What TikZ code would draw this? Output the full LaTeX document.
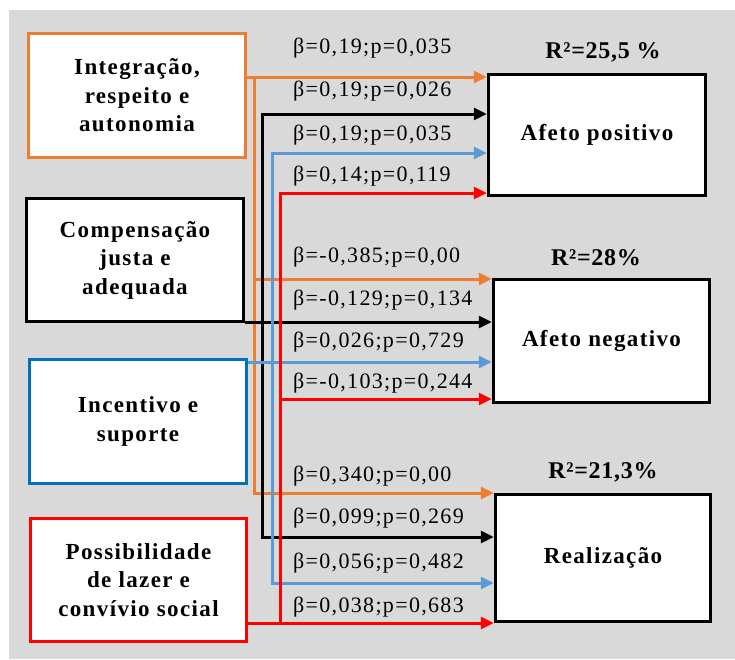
\documentclass[tikz,border=0pt]{standalone}
\usepackage{fontspec}
\setmainfont{Liberation Serif}
\newfontfamily\lblfont[LetterSpace=6]{Liberation Serif}
\newfontfamily\bxfont[LetterSpace=6]{Liberation Serif}
\newfontfamily\rfont[LetterSpace=3]{Liberation Serif}
\usetikzlibrary{arrows.meta}
\definecolor{bg}{HTML}{D9D9D9}
\definecolor{orng}{HTML}{ED7D31}
\definecolor{lblue}{HTML}{5B9BD5}
\definecolor{dblue}{HTML}{0070C0}
\definecolor{rd}{HTML}{FF0000}
\begin{document}
\begin{tikzpicture}[x=1pt,y=-1pt,
  box/.style={draw,line width=3.5pt,fill=white,inner sep=0pt,align=center,
    font=\bxfont\bfseries\fontsize{23}{28.5}\selectfont},
  lbl/.style={anchor=west,inner sep=0pt,font=\lblfont\fontsize{22}{26}\selectfont},
  rlbl/.style={inner sep=0pt,font=\rfont\bfseries\fontsize{24}{26}\selectfont},
  conn/.style={line width=3pt,-{Triangle[length=13pt,width=12pt]}}]
\useasboundingbox (0,0) rectangle (735,659);
\fill[bg] (9,10) rectangle (735,659);

% source boxes
\node[box,draw=orng,minimum width=217pt,minimum height=124pt] (int) at (137,95.5) {Integração,\\respeito e\\autonomia};
\node[box,draw=black,minimum width=217pt,minimum height=123pt] (comp) at (135,260) {Compensação\\justa e\\adequada};
\node[box,draw=dblue,minimum width=217pt,minimum height=124pt] (inc) at (138,421.5) {Incentivo e\\suporte};
\node[box,draw=rd,minimum width=216pt,minimum height=123pt] (pos) at (138.5,580) {Possibilidade\\de lazer e\\convívio social};

% target boxes
\node[box,draw=black,minimum width=217pt,minimum height=121pt] (ap) at (597,135) {Afeto positivo};
\node[box,draw=black,minimum width=216pt,minimum height=123pt] (an) at (601.5,341) {Afeto negativo};
\node[box,draw=black,minimum width=215pt,minimum height=127pt] (re) at (603,558) {Realização};

% R2 labels
\node[rlbl] (r1) at (603,52) {R²=25,5 \%};
\node[rlbl] (r2) at (596,258) {R²=28\%};
\node[rlbl] (r3) at (603,472) {R²=21,3\%};

% orange connectors
\draw[conn,orng] (int.east|-0,77) -- (ap.west|-0,77);
\draw[conn,orng] (int.east|-0,77) -| (254,279) -- (an.west|-0,279);
\draw[conn,orng] (int.east|-0,77) -| (254,493) -- (re.west|-0,493);
% black connectors
\draw[conn,black] (comp.east|-0,322) -| (262,114) -- (ap.west|-0,114);
\draw[conn,black] (comp.east|-0,322) -- (an.west|-0,322);
\draw[conn,black] (comp.east|-0,322) -| (262,537) -- (re.west|-0,537);
% blue connectors
\draw[conn,lblue] (inc.east|-0,362) -| (272,153) -- (ap.west|-0,153);
\draw[conn,lblue] (inc.east|-0,362) -- (an.west|-0,362);
\draw[conn,lblue] (inc.east|-0,362) -| (272,583) -- (re.west|-0,583);
% red connectors
\draw[conn,rd] (pos.east|-0,623) -| (280,193) -- (ap.west|-0,193);
\draw[conn,rd] (pos.east|-0,623) -| (280,399) -- (an.west|-0,399);
\draw[conn,rd] (pos.east|-0,623) -- (re.west|-0,623);

% coefficient labels
\node[lbl] (b1) at (293,48) {β=0,19;p=0,035};
\node[lbl] (b2) at (293,91) {β=0,19;p=0,026};
\node[lbl] (b3) at (293,135) {β=0,19;p=0,035};
\node[lbl] (b4) at (293,176) {β=0,14;p=0,119};
\node[lbl] (b5) at (293,257) {β=-0,385;p=0,00};
\node[lbl] (b6) at (293,300) {β=-0,129;p=0,134};
\node[lbl] (b7) at (293,342) {β=0,026;p=0,729};
\node[lbl] (b8) at (293,383) {β=-0,103;p=0,244};
\node[lbl] (b9) at (293,476) {β=0,340;p=0,00};
\node[lbl] (b10) at (293,518) {β=0,099;p=0,269};
\node[lbl] (b11) at (293,563) {β=0,056;p=0,482};
\node[lbl] (b12) at (293,607) {β=0,038;p=0,683};
\end{tikzpicture}
\end{document}
